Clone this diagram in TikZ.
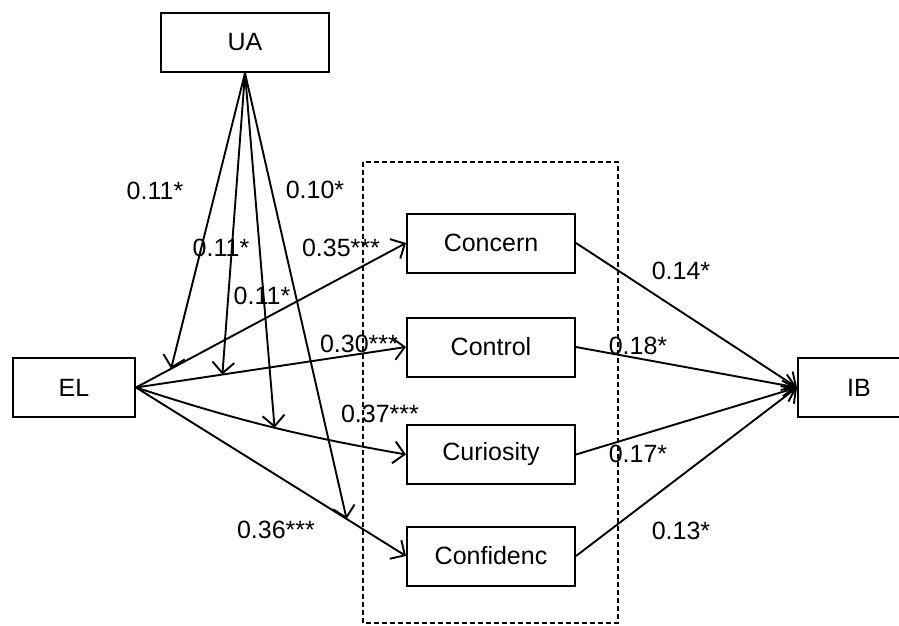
\documentclass[tikz,border=0pt]{standalone}
\usepackage{fontspec}
\setmainfont{Liberation Sans}
\usetikzlibrary{arrows.meta}
\tikzset{
  box/.style={draw=black, line width=1pt, fill=white, minimum height=29.5pt, inner sep=0pt, font=\fontsize{12.5}{14}\selectfont},
  medbox/.style={box, minimum width=84pt},
  endbox/.style={box, minimum width=61pt},
  label/.style={font=\fontsize{12.5}{14}\selectfont, inner sep=0pt},
  arrow/.style={-{Straight Barb[length=5.5pt,width=11pt]}, line width=0.95pt, draw=black},
  groupbox/.style={draw=black, line width=0.9pt, dash pattern=on 2.4pt off 1.6pt}
}

\begin{document}
\begin{tikzpicture}[x=0.5pt,y=-0.5pt]
\useasboundingbox (0,0) rectangle (899,626);
\draw[groupbox] (363,162) rectangle (618,623);
\node[box, minimum width=84pt] (ua) at (245,42.5) {UA};
\node[endbox] (el) at (74,387.5) {EL};
\node[endbox] (ib) at (859,387.5) {IB};
\node[medbox] (concern) at (491,243) {Concern};
\node[medbox] (control) at (491,347) {Control};
\node[medbox] (curiosity) at (491,454.5) {Curiosity};
\node[medbox] (confid) at (491,556) {Confidenc};
% EL -> mediators
\draw[arrow] (el.east) -- coordinate[pos=0.13] (m1) (concern.west);
\draw[arrow] (el.east) -- coordinate[pos=0.32] (m2) (control.west);
\draw[arrow] (el.east) to[bend right=4] coordinate[pos=0.52] (m3) (curiosity.west);
\draw[arrow] (el.east) -- coordinate[pos=0.78] (m4) (confid.west);
% moderation by UA
\draw[arrow] (ua.south) -- (m1);
\draw[arrow] (ua.south) -- (m2);
\draw[arrow] (ua.south) -- (m3);
\draw[arrow] (ua.south) -- (m4);
% mediators -> IB
\draw[arrow] (concern.east) -- (ib.west);
\draw[arrow] (control.east) -- (ib.west);
\draw[arrow] (curiosity.east) -- (ib.west);
\draw[arrow] (confid.east) -- (ib.west);
% coefficients
\node[label] at (155,191) {0.11*};
\node[label] at (315,190) {0.10*};
\node[label] at (221,248) {0.11*};
\node[label] at (262,296) {0.11*};
\node[label] at (341,248) {0.35***};
\node[label] at (359,344) {0.30***};
\node[label] at (380,414) {0.37***};
\node[label] at (276,530) {0.36***};
\node[label] at (681,271) {0.14*};
\node[label] at (638,346) {0.18*};
\node[label] at (638,454) {0.17*};
\node[label] at (681,531) {0.13*};
\end{tikzpicture}
\end{document}
